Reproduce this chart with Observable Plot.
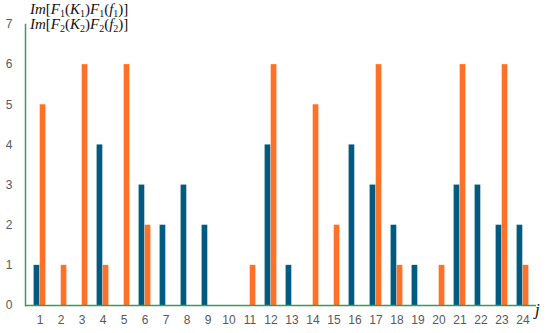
<!DOCTYPE html>
<html><head><meta charset="utf-8">
<script src="https://cdn.jsdelivr.net/npm/d3@7"></script>
<script src="https://cdn.jsdelivr.net/npm/@observablehq/plot@0.6"></script>
<style>
body{margin:0;background:#fff;}
#wrap{position:relative;width:550px;height:333px;}
.leg{position:absolute;font-family:"Liberation Serif","DejaVu Serif",serif;font-size:15px;color:#111;white-space:nowrap;line-height:1;}
.leg i{font-style:italic;}
.leg sub{font-size:10px;vertical-align:-3px;}
#jlab{position:absolute;left:535px;top:300px;font-family:"Liberation Serif",serif;font-style:italic;font-size:17px;color:#111;}
</style>
</head><body>
<div id="wrap"></div>
<script>
const categories = ["1","2","3","4","5","6","7","8","9","10","11","12","13","14","15","16","17","18","19","20","21","22","23","24"];
const series1 = [1,0,0,4,0,3,2,3,2,0,0,4,1,0,0,4,3,2,1,0,3,3,2,2];
const series2 = [5,1,6,1,6,2,0,0,0,0,1,6,0,5,2,0,6,1,0,1,6,0,6,1];
const yTicks = [0,1,2,3,4,5,6,7];

const blue = "#015a80", orange = "#ff7029", green = "#3a9a5c";
const d1 = categories.map((j,i)=>({j, v: series1[i]}));
const d2 = categories.map((j,i)=>({j, v: series2[i]}));

const chart = Plot.plot({
  width: 550, height: 333,
  marginLeft: 25, marginRight: 14, marginTop: 24, marginBottom: 28,
  style: {fontFamily: "'Liberation Sans', Arial, sans-serif", fontSize: "12px", color: "#595959", background: "#fff"},
  x: {domain: categories, padding: 0, label: null, tickSize: 0, tickPadding: 10},
  y: {domain: [0,7], ticks: yTicks, tickFormat: d3.format("d"), label: null, tickSize: 0, tickPadding: 13},
  marks: [
    Plot.barY(d1, {x: "j", y: "v", fill: blue, insetLeft: 4.6, insetRight: 10.7}),
    Plot.barY(d2, {x: "j", y: "v", fill: orange, insetLeft: 10.7, insetRight: 4.6}),
    Plot.ruleY([0], {stroke: green, strokeWidth: 1.5}),
    Plot.frame({anchor: "left", stroke: green, strokeWidth: 1.5})
  ]
});
const wrap = document.getElementById("wrap");
wrap.appendChild(chart);
const l1 = document.createElement("div");
l1.className = "leg"; l1.style.left = "30px"; l1.style.top = "2px";
l1.innerHTML = "<i>Im</i>[<i>F</i><sub>1</sub>(<i>K</i><sub>1</sub>)<i>F</i><sub>1</sub>(<i>f</i><sub>1</sub>)]";
const l2 = document.createElement("div");
l2.className = "leg"; l2.style.left = "30px"; l2.style.top = "17px";
l2.innerHTML = "<i>Im</i>[<i>F</i><sub>2</sub>(<i>K</i><sub>2</sub>)<i>F</i><sub>2</sub>(<i>f</i><sub>2</sub>)]";
const jl = document.createElement("div");
jl.id = "jlab"; jl.textContent = "j";
wrap.append(l1, l2, jl);
</script>
</body></html>
